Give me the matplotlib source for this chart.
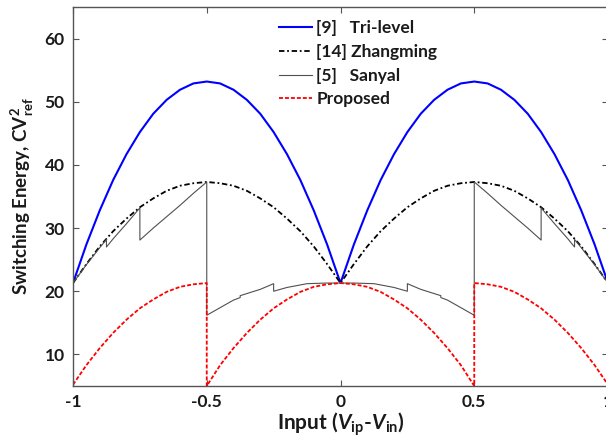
import matplotlib
matplotlib.use('Agg')
import matplotlib.pyplot as plt

plt.rcParams['font.family'] = ['Lato', 'DejaVu Sans']
plt.rcParams['mathtext.fontset'] = 'custom'
plt.rcParams['mathtext.rm'] = 'Lato'
plt.rcParams['mathtext.bf'] = 'Lato:bold'
plt.rcParams['mathtext.bfit'] = 'Lato:italic:bold'

# x grid shared by the two smooth curves
x = [-1.0, -0.95, -0.9, -0.85, -0.8, -0.75, -0.7, -0.65, -0.6, -0.55, -0.5,
     -0.45, -0.4, -0.35, -0.3, -0.25, -0.2, -0.15, -0.1, -0.05, 0.0,
     0.05, 0.1, 0.15, 0.2, 0.25, 0.3, 0.35, 0.4, 0.45, 0.5,
     0.55, 0.6, 0.65, 0.7, 0.75, 0.8, 0.85, 0.9, 0.95, 1.0]

trilevel = [21.3, 27.4, 32.8, 37.6, 41.7, 45.2, 48.1, 50.3, 51.9, 52.9, 53.2,
            52.9, 51.9, 50.3, 48.1, 45.2, 41.7, 37.6, 32.8, 27.4, 21.3,
            27.4, 32.8, 37.6, 41.7, 45.2, 48.1, 50.3, 51.9, 52.9, 53.2,
            52.9, 51.9, 50.3, 48.1, 45.2, 41.7, 37.6, 32.8, 27.4, 21.3]

zhangming = [21.3, 24.3, 27.1, 29.5, 31.5, 33.3, 34.7, 35.9, 36.7, 37.1, 37.3,
             37.1, 36.7, 35.9, 34.7, 33.3, 31.5, 29.5, 27.1, 24.3, 21.3,
             24.3, 27.1, 29.5, 31.5, 33.3, 34.7, 35.9, 36.7, 37.1, 37.3,
             37.1, 36.7, 35.9, 34.7, 33.3, 31.5, 29.5, 27.1, 24.3, 21.3]

# Sanyal: sawtooth with vertical steps (repeated x values)
x_sanyal = [-1.0, -0.95, -0.9, -0.875, -0.875, -0.85, -0.8, -0.75, -0.75, -0.7,
            -0.65, -0.6, -0.55, -0.5, -0.5, -0.45, -0.4, -0.375, -0.375, -0.3,
            -0.25, -0.25, -0.2, -0.15, -0.125, -0.05, 0.0,
            0.05, 0.125, 0.15, 0.2, 0.25, 0.25, 0.3, 0.375, 0.375, 0.4,
            0.45, 0.5, 0.5, 0.55, 0.6, 0.65, 0.7, 0.75, 0.75, 0.8,
            0.85, 0.875, 0.875, 0.9, 0.95, 1.0]
sanyal = [21.3, 24.2, 26.9, 28.2, 27.0, 28.3, 30.7, 33.2, 28.1, 30.0,
          31.8, 33.6, 35.5, 37.3, 16.2, 17.4, 18.6, 19.0, 19.3, 20.3,
          21.2, 20.0, 20.6, 21.0, 21.2, 21.3, 21.3,
          21.3, 21.2, 21.0, 20.6, 20.0, 21.2, 20.3, 19.3, 19.0, 18.6,
          17.4, 16.2, 37.3, 35.5, 33.6, 31.8, 30.0, 28.1, 33.2, 30.7,
          28.3, 27.0, 28.2, 26.9, 24.2, 21.3]

x_prop = [-1.0, -0.95, -0.9, -0.85, -0.8, -0.75, -0.7, -0.65, -0.6, -0.55, -0.5,
          -0.5, -0.45, -0.4, -0.35, -0.3, -0.25, -0.2, -0.15, -0.1, -0.05, 0.0,
          0.05, 0.1, 0.15, 0.2, 0.25, 0.3, 0.35, 0.4, 0.45, 0.5,
          0.5, 0.55, 0.6, 0.65, 0.7, 0.75, 0.8, 0.85, 0.9, 0.95, 1.0]
proposed = [5.2, 8.3, 11.0, 13.4, 15.5, 17.3, 18.7, 19.9, 20.7, 21.1, 21.3,
            5.0, 8.3, 11.0, 13.4, 15.5, 17.3, 18.7, 19.9, 20.7, 21.1, 21.3,
            21.1, 20.7, 19.9, 18.7, 17.3, 15.5, 13.4, 11.0, 8.3, 5.0,
            21.3, 21.1, 20.7, 19.9, 18.7, 17.3, 15.5, 13.4, 11.0, 8.3, 5.2]

labels = ['[9]   Tri-level', '[14] Zhangming', '[5]   Sanyal', 'Proposed']
xticks = [-1, -0.5, 0, 0.5, 1]
xticklabels = ['-1', '-0.5', '0', '0.5', '1']
yticks = [10, 20, 30, 40, 50, 60]

W, H = 606, 441
fig = plt.figure(figsize=(W / 100, H / 100), dpi=100)
ax = fig.add_axes([73 / W, 55 / H, 535 / W, 379 / H])

ax.plot(x, trilevel, color='#0000ff', lw=1.5, label=labels[0])
ax.plot(x, zhangming, color='black', lw=1.3, linestyle=(0, (3, 1.5, 1, 1.5)), label=labels[1])
ax.plot(x_sanyal, sanyal, color='#505050', lw=0.8, label=labels[2])
ax.plot(x_prop, proposed, color='#ff0000', lw=1.3, linestyle=(0, (2.2, 1.1)), label=labels[3])

ax.set_xlim(-1, 1)
ax.set_ylim(5, 65)
ax.set_xticks(xticks)
ax.set_xticklabels(xticklabels, fontweight='bold', fontsize=12.5)
ax.set_yticks(yticks)
ax.set_yticklabels([str(v) for v in yticks], fontweight='bold', fontsize=12.5)
ax.tick_params(direction='in', length=4, width=0.8, colors='#555555', labelcolor='#1a1a1a',
               top=True, right=True, pad=6)
for sp in ax.spines.values():
    sp.set_color('#555555')
    sp.set_linewidth(1.0)

ax.set_ylabel('Switching Energy, CV$^{\\mathbf{2}}_{\\mathbf{ref}}$', fontsize=13.5,
              fontweight='bold', color='#1a1a1a', labelpad=6)
ax.set_xlabel('Input ($\\mathbfit{V}_{\\mathbf{ip}}$-$\\mathbfit{V}_{\\mathbf{in}}$)',
              fontsize=15, fontweight='bold', color='#1a1a1a', labelpad=0)

leg = ax.legend(loc='upper left', bbox_to_anchor=(279 / W, 1 - 20 / H),
                bbox_transform=fig.transFigure, frameon=False,
                prop={'family': 'Lato', 'weight': 'bold', 'size': 12.5},
                handlelength=1.9, handletextpad=0.25, labelspacing=0.45,
                borderpad=0, borderaxespad=0)
for t in leg.get_texts():
    t.set_color('#1a1a1a')

fig.savefig('out.png', dpi=100)
